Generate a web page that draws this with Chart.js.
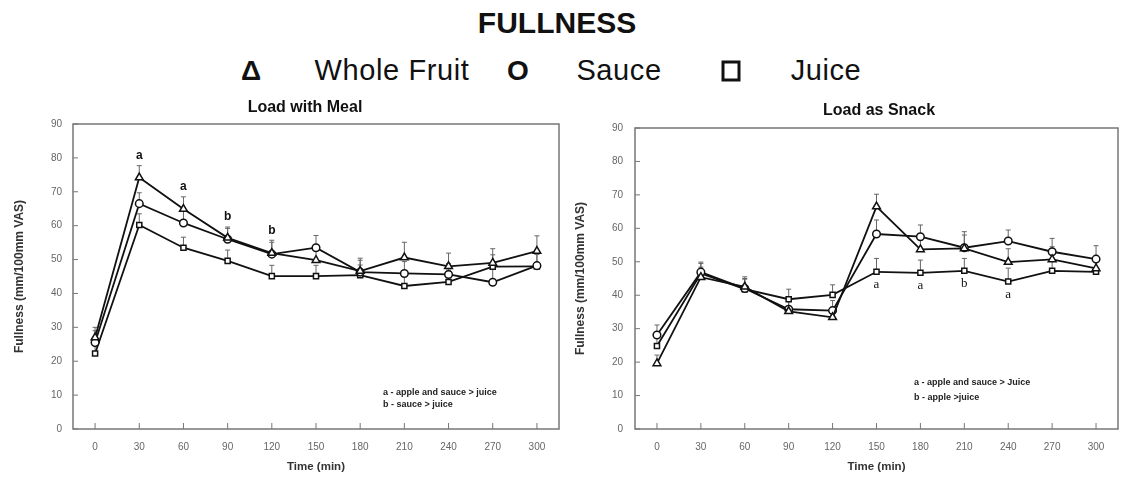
<!DOCTYPE html>
<html>
<head>
<meta charset="utf-8">
<script src="https://cdn.jsdelivr.net/npm/chart.js@4.4.1/dist/chart.umd.min.js"></script>
<style>
  body { margin: 0; background: #fff; width: 1124px; height: 479px; position: relative; overflow: hidden;
         font-family: "Liberation Sans", Arial, sans-serif; color: #111; }
  .lbl { position: absolute; transform: translate(-50%, -50%); white-space: nowrap; }
  #mainTitle { left: 557px; top: 23px; font-size: 30px; font-weight: bold; }
  .name { font-size: 29px; letter-spacing: 0.6px; }
  .sym { font-size: 28px; font-weight: bold; }
  .box { width: 13px; height: 15px; border: 3px solid #111; }
  canvas { position: absolute; top: 95px; }
  #mealChart { left: 0; }
  #snackChart { left: 565px; }
</style>
</head>
<body>
<div id="mainTitle" class="lbl">FULLNESS</div>
<div id="legend"></div>
<canvas id="mealChart" width="565" height="384"></canvas>
<canvas id="snackChart" width="559" height="384"></canvas>
<script>
const times = ["0", "30", "60", "90", "120", "150", "180", "210", "240", "270", "300"];
const seriesNames = ["Whole Fruit", "Sauce", "Juice"];

// Load with Meal
const mealWhole = [27.0, 74.2, 64.9, 56.4, 51.9, 49.8, 46.6, 50.6, 48.0, 49.0, 52.5];
const mealSauce = [25.5, 66.5, 60.8, 56.0, 51.6, 53.5, 46.3, 45.9, 45.6, 43.3, 48.2];
const mealJuice = [22.3, 60.2, 53.5, 49.6, 45.1, 45.1, 45.4, 42.2, 43.4, 47.9, 48.0];
const mealWholeErr = [3.0, 3.5, 3.6, 3.2, 3.8, 3.5, 3.8, 4.5, 3.9, 4.2, 4.5];
const mealSauceErr = [3.5, 3.2, 3.4, 3.2, 3.5, 3.6, 3.5, 3.5, 3.2, 3.8, 3.8];
const mealJuiceErr = [3.0, 3.3, 3.1, 3.2, 3.2, 3.2, 3.0, 3.2, 3.5, 3.5, 3.5];
const mealSig = ["", "a", "a", "b", "b", "", "", "", "", "", ""];
const mealNotes = ["a - apple and sauce > juice", "b - sauce > juice"];

// Load as Snack
const snackWhole = [19.6, 45.4, 42.5, 35.2, 33.4, 66.5, 53.7, 54.0, 49.9, 50.7, 48.0];
const snackSauce = [28.1, 46.9, 42.0, 35.8, 35.4, 58.3, 57.5, 54.2, 56.2, 53.0, 50.8];
const snackJuice = [24.8, 46.5, 41.8, 38.8, 40.1, 47.0, 46.7, 47.3, 44.1, 47.3, 47.0];
const snackWholeErr = [2.5, 3.0, 3.0, 3.0, 3.0, 3.7, 3.5, 4.0, 4.0, 3.8, 3.5];
const snackSauceErr = [3.0, 3.0, 3.0, 3.0, 3.0, 4.2, 3.5, 4.8, 3.3, 4.0, 4.0];
const snackJuiceErr = [3.0, 3.0, 3.0, 3.0, 3.0, 4.0, 3.8, 3.7, 4.0, 3.5, 3.5];
const snackSig = ["", "", "", "", "", "a", "a", "b", "a", "", ""];
const snackNotes = ["a - apple and sauce > Juice", "b - apple >juice"];

// header legend
const legend = document.getElementById("legend");
const symX = [251, 518, 731];
const nameX = [392, 619, 826];
seriesNames.forEach((name, i) => {
  const s = document.createElement("div");
  if (i === 2) {
    s.className = "lbl box";
  } else {
    s.className = "lbl sym";
    s.textContent = i === 0 ? "\u0394" : "O";
  }
  s.style.left = symX[i] + "px";
  s.style.top = "71px";
  legend.appendChild(s);
  const t = document.createElement("div");
  t.className = "lbl name";
  t.textContent = name;
  t.style.left = nameX[i] + "px";
  t.style.top = "70px";
  legend.appendChild(t);
});

const decor = {
  id: "decor",
  beforeDatasetsDraw(chart) {
    const { ctx, scales: { y } } = chart;
    ctx.save();
    ctx.strokeStyle = "#666";
    ctx.lineWidth = 1;
    chart.data.datasets.forEach((ds, di) => {
      chart.getDatasetMeta(di).data.forEach((pt, i) => {
        const top = y.getPixelForValue(ds.data[i] + ds.err[i]);
        ctx.beginPath();
        ctx.moveTo(pt.x, pt.y);
        ctx.lineTo(pt.x, top);
        ctx.moveTo(pt.x - 2.5, top);
        ctx.lineTo(pt.x + 2.5, top);
        ctx.stroke();
      });
    });
    ctx.restore();
  },
  afterDraw(chart, args, opts) {
    const { ctx, chartArea: a, scales: { x, y } } = chart;
    ctx.save();
    // frame + inward ticks
    ctx.strokeStyle = "#777";
    ctx.lineWidth = 1.5;
    ctx.strokeRect(a.left, a.top, a.right - a.left, a.bottom - a.top);
    ctx.lineWidth = 1;
    ctx.beginPath();
    x.ticks.forEach((t, i) => {
      const px = x.getPixelForTick(i);
      ctx.moveTo(px, a.bottom);
      ctx.lineTo(px, a.bottom - 6);
    });
    y.ticks.forEach((t, i) => {
      const py = y.getPixelForTick(i);
      ctx.moveTo(a.left, py);
      ctx.lineTo(a.left + 5, py);
    });
    ctx.stroke();

    // panel title
    ctx.fillStyle = "#111";
    ctx.textAlign = "center";
    ctx.textBaseline = "middle";
    ctx.font = "bold 16px 'Liberation Sans', Arial";
    ctx.fillText(opts.title, opts.titleX, opts.titleY);

    // significance letters
    ctx.font = opts.sigFont;
    const ds = chart.data.datasets;
    opts.sig.forEach((s, i) => {
      if (!s) return;
      const px = x.getPixelForValue(i);
      let py;
      if (opts.sigBelow) {
        py = y.getPixelForValue(ds[2].data[i]) + 13;
      } else {
        const top = Math.max(...ds.map(d => d.data[i] + d.err[i]));
        py = y.getPixelForValue(top) - 10;
      }
      ctx.fillText(s, px, py);
    });

    // notes
    ctx.textAlign = "left";
    ctx.font = "bold 9px 'Liberation Sans', Arial";
    ctx.fillStyle = "#222";
    opts.notes.forEach((n, i) => ctx.fillText(n, opts.notesX, opts.notesY + i * opts.notesGap));
    ctx.restore();
  }
};

function makeChart(id, series, errs, pad, yTitlePad, opts) {
  const styles = ["triangle", "circle", "rect"];
  const radii = [4.5, 3.8, 3.6];
  new Chart(document.getElementById(id), {
    type: "line",
    data: {
      labels: times,
      datasets: series.map((d, i) => ({
        label: seriesNames[i],
        data: d,
        err: errs[i],
        borderColor: "#111",
        borderWidth: 1.8,
        pointStyle: styles[i],
        pointRadius: radii[i],
        pointBackgroundColor: "#fff",
        pointBorderColor: "#111",
        pointBorderWidth: 1.5,
        tension: 0
      }))
    },
    options: {
      responsive: false,
      animation: false,
      layout: { padding: { top: pad.top, right: pad.right, left: 0, bottom: 0 } },
      plugins: { legend: { display: false }, tooltip: { enabled: false }, decor: opts },
      scales: {
        x: {
          type: "category",
          offset: true,
          grid: { display: false, drawTicks: false },
          border: { display: false },
          ticks: { padding: 12, color: "#666", font: { size: 10 }, maxRotation: 0, autoSkip: false },
          title: { display: true, text: "Time (min)", color: "#333",
                   font: { size: 11.5, weight: "bold" }, padding: { top: 0, bottom: 5 } },
          afterFit: s => { s.height = 50; }
        },
        y: {
          min: 0, max: 90,
          grid: { display: false, drawTicks: false },
          border: { display: false },
          ticks: { stepSize: 10, padding: pad.tick, color: "#666", font: { size: 10 } },
          title: { display: true, text: "Fullness (mm/100mm VAS)", color: "#333",
                   font: { size: 12, weight: "bold" }, padding: { top: yTitlePad, bottom: 0 } },
          afterFit: s => { s.width = pad.left; }
        }
      }
    },
    plugins: [decor]
  });
}

makeChart("mealChart",
  [mealWhole, mealSauce, mealJuice],
  [mealWholeErr, mealSauceErr, mealJuiceErr],
  { top: 29, right: 5, left: 73, tick: 11 }, 12,
  { title: "Load with Meal", titleX: 305, titleY: 13, sig: mealSig, sigBelow: false,
    sigFont: "bold 12px 'Liberation Sans', Arial",
    notes: mealNotes, notesX: 383, notesY: 298, notesGap: 11.5 });

makeChart("snackChart",
  [snackWhole, snackSauce, snackJuice],
  [snackWholeErr, snackSauceErr, snackJuiceErr],
  { top: 33, right: 3, left: 70, tick: 12 }, 8,
  { title: "Load as Snack", titleX: 314, titleY: 16, sig: snackSig, sigBelow: true,
    sigFont: "13px 'Liberation Serif', serif",
    notes: snackNotes, notesX: 349, notesY: 288, notesGap: 15 });
</script>
</body>
</html>
